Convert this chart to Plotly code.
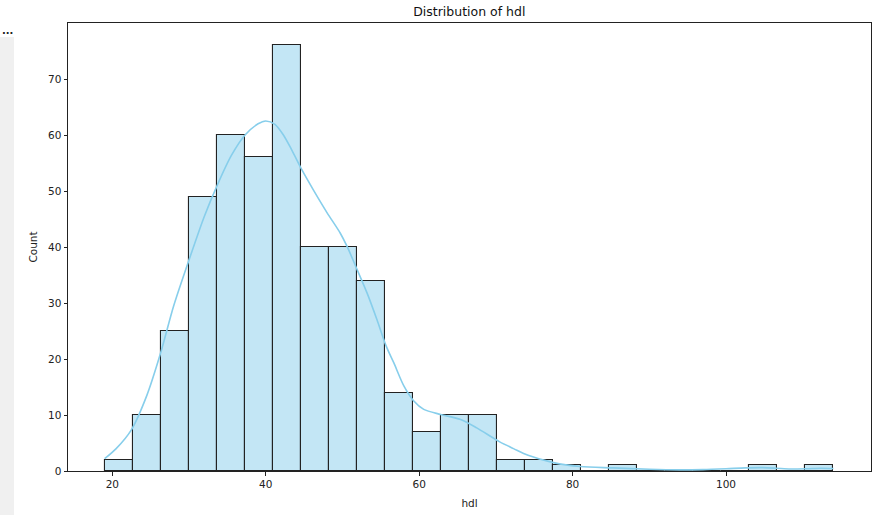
import numpy as np
import plotly.graph_objects as go

# Histogram data (hdl)
bin_start = 19.0
bin_end = 114.0
counts = [2, 10, 25, 49, 60, 56, 76, 40, 40, 34, 14, 7, 10, 10, 2, 2, 1, 0, 1, 0, 0, 0, 0, 1, 0, 1]

# KDE curve (scaled to counts)
kde_x = [19, 20.5, 22.5, 24.5, 26.3, 28, 30, 32, 33.7, 35.5, 37.3, 39, 40, 41.2, 42.3, 43.4, 44.7,
         46.2, 48.0, 49.7, 50.6, 51.9, 53.2, 54.5, 55.7, 56.7, 58.0, 59.3, 60.6, 62.8, 65.4, 67.5,
         70.5, 72.3, 74.2, 77.5, 81, 85.3, 90, 94, 97, 100, 102.5, 104.8, 106.5, 108.4, 110.5, 112.3, 114]
kde_y = [2.2, 4.0, 7.4, 13.5, 21.1, 29.5, 37.7, 45.5, 51.1, 56.3, 60.0, 62.0, 62.5, 61.9, 60.0, 57.3, 53.8,
         50.2, 46.1, 42.5, 40.1, 36.0, 31.8, 27.0, 22.3, 19.3, 15.2, 12.5, 11.0, 10.1, 9.2, 7.7,
         5.2, 4.0, 2.8, 1.5, 0.8, 0.55, 0.3, 0.2, 0.25, 0.4, 0.55, 0.6, 0.5, 0.35, 0.4, 0.5, 0.45]

x_ticks = [20, 40, 60, 80, 100]
y_ticks = [0, 10, 20, 30, 40, 50, 60, 70]

edges = np.linspace(bin_start, bin_end, len(counts) + 1)
centers = (edges[:-1] + edges[1:]) / 2
width = edges[1] - edges[0]

FONT = "DejaVu Sans"

fig = go.Figure()
fig.add_trace(go.Bar(
    x=centers, y=counts, width=width,
    marker=dict(color="rgba(135,206,235,0.5)", line=dict(color="#222222", width=1.1)),
    showlegend=False,
))
fig.add_trace(go.Scatter(
    x=kde_x, y=kde_y, mode="lines", line=dict(color="#87CEEB", width=1.6, shape="spline", smoothing=0.8),
    showlegend=False,
))

fig.update_layout(
    width=884, height=515,
    margin=dict(l=68, r=13, t=23, b=44),
    paper_bgcolor="white", plot_bgcolor="white",
    font=dict(family=FONT, size=10.5, color="#222222"),
    title=dict(text="Distribution of hdl", x=0.5309, xanchor="center", y=1 - 12 / 515,
               yanchor="middle", yref="container", font=dict(family=FONT, size=12.5, color="#111111")),
    bargap=0,
    xaxis=dict(range=[14.22, 118.9], tickvals=x_ticks, ticks="outside", ticklen=3.5, tickwidth=0.9,
               tickcolor="#222", showline=True, linecolor="#222", linewidth=1, mirror=True,
               showgrid=False, zeroline=False, automargin=False,
               title=dict(text="hdl", font=dict(family=FONT, size=10.5), standoff=10)),
    yaxis=dict(range=[0, 80], tickvals=y_ticks, ticks="outside", ticklen=3.5, tickwidth=0.9,
               tickcolor="#222", showline=True, linecolor="#222", linewidth=1, mirror=True,
               showgrid=False, zeroline=False, automargin=False,
               title=dict(text="Count", font=dict(family=FONT, size=10.5), standoff=8)),
    shapes=[dict(type="rect", xref="paper", yref="paper",
                 x0=-68 / 803, x1=-54 / 803, y0=-44 / 448, y1=(471 - 37) / 448,
                 fillcolor="#f0f0f0", line=dict(width=0), layer="below")],
    annotations=[dict(text="<b>...</b>", xref="paper", yref="paper", x=-68 / 803, y=(471 - 30) / 448,
                      xanchor="left", yanchor="middle", showarrow=False,
                      font=dict(family=FONT, size=10, color="#222"))],
)

fig.write_html("out.html")
